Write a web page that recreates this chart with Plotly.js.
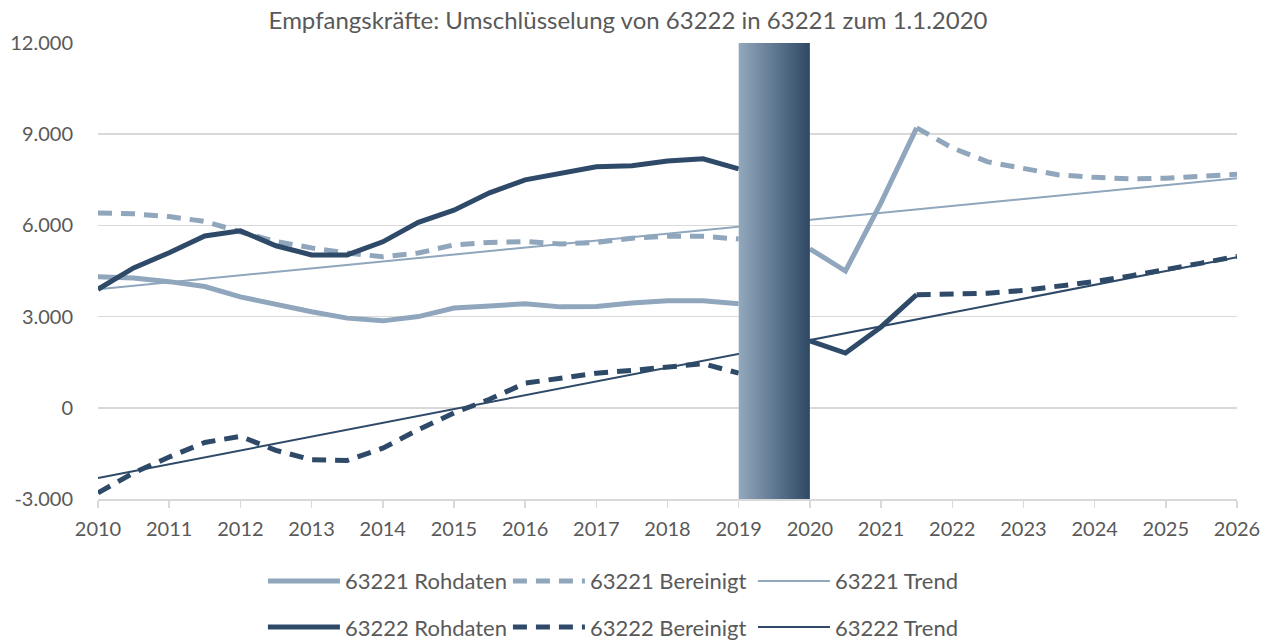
<!DOCTYPE html>
<html>
<head>
<meta charset="utf-8">
<script src="https://cdn.plot.ly/plotly-3.0.1.min.js"></script>
<style>html,body{margin:0;padding:0;background:#fff;}#chart{width:1274px;height:641px;}</style>
</head>
<body>
<div id="chart"></div>
<script>
// Half-year positions 2010 .. 2026
const xHalf = [2010,2010.5,2011,2011.5,2012,2012.5,2013,2013.5,2014,2014.5,2015,2015.5,2016,2016.5,2017,2017.5,2018,2018.5,2019,2019.5,2020,2020.5,2021,2021.5,2022,2022.5,2023,2023.5,2024,2024.5,2025,2025.5,2026];

const r63221 = [4310,4270,4150,3990,3650,3390,3160,2950,2860,3000,3280,3350,3420,3320,3330,3450,3520,3520,3420,null,5230,4500,6750,9210,null,null,null,null,null,null,null,null,null];
const b63221 = [6410,6380,6290,6130,5790,5470,5260,5090,4970,5090,5360,5440,5470,5390,5440,5580,5640,5640,5550,null,null,null,null,9210,8550,8090,7860,7660,7580,7530,7550,7610,7680];
const r63222 = [3900,4600,5100,5650,5820,5330,5030,5030,5460,6100,6500,7070,7500,7730,7930,7960,8120,8190,7860,null,2200,1800,2660,3720,null,null,null,null,null,null,null,null,null];
const b63222 = [-2800,-2140,-1620,-1140,-940,-1400,-1710,-1730,-1330,-720,-170,280,810,970,1140,1230,1360,1450,1140,null,null,null,null,3720,3750,3770,3860,3990,4150,4340,4570,4760,4980];

const trendX = [2010, 2026];
const t63221 = [3900, 7550];
const t63222 = [-2310, 4950];

// Umschlüsselungs-Zeitraum
const switchStart = 2019, switchEnd = 2020;
const yMin = -3000, yMax = 12000;

const yTickVals = [-3000, 0, 3000, 6000, 9000, 12000];
const yTickText = ['-3.000', '0', '3.000', '6.000', '9.000', '12.000'];
const xTickVals = [2010,2011,2012,2013,2014,2015,2016,2017,2018,2019,2020,2021,2022,2023,2024,2025,2026];

const LIGHT = '#8FA6BC';
const DARK = '#2E4A68';
const FONT = 'Lato, "Open Sans", sans-serif';
const TXT = '#595959';

const traces = [
  {x: xHalf, y: r63221, name: '63221 Rohdaten', mode: 'lines', line: {color: LIGHT, width: 5}, legend: 'legend'},
  {x: xHalf, y: b63221, name: '63221 Bereinigt', mode: 'lines', line: {color: LIGHT, width: 5, dash: '14px,9px'}, legend: 'legend'},
  {x: trendX, y: t63221, name: '63221 Trend', mode: 'lines', line: {color: LIGHT, width: 2}, legend: 'legend'},
  {x: xHalf, y: r63222, name: '63222 Rohdaten', mode: 'lines', line: {color: DARK, width: 5}, legend: 'legend2'},
  {x: xHalf, y: b63222, name: '63222 Bereinigt', mode: 'lines', line: {color: DARK, width: 5, dash: '14px,9px'}, legend: 'legend2'},
  {x: trendX, y: t63222, name: '63222 Trend', mode: 'lines', line: {color: DARK, width: 2}, legend: 'legend2'},
  {x: [switchStart, switchEnd, switchEnd, switchStart, switchStart], y: [yMin, yMin, yMax, yMax, yMin],
   mode: 'lines', fill: 'toself', line: {width: 0, color: 'rgba(0,0,0,0)'},
   fillgradient: {type: 'horizontal', colorscale: [[0, '#92A8BD'], [1, '#2E4864']]},
   showlegend: false, hoverinfo: 'skip'}
];

const legendBase = {
  orientation: 'h', xref: 'paper', yref: 'paper', xanchor: 'left', yanchor: 'middle',
  itemwidth: 72, entrywidth: 158, entrywidthmode: 'pixels',
  font: {family: FONT, size: 22, color: TXT}, bgcolor: 'rgba(0,0,0,0)', traceorder: 'normal'
};

const layout = {
  width: 1274, height: 641,
  margin: {l: 98, r: 37, t: 43, b: 142, autoexpand: false},
  paper_bgcolor: '#fff', plot_bgcolor: '#fff',
  font: {family: FONT, size: 20, color: TXT},
  title: {text: 'Empfangskräfte: Umschlüsselung von 63222 in 63221 zum 1.1.2020', font: {family: FONT, size: 24, color: TXT}, x: 0.493, xref: 'container', xanchor: 'center', y: 0.968, yref: 'container', yanchor: 'middle'},
  xaxis: {range: [2010, 2026], tickvals: xTickVals, ticktext: xTickVals.map(String), showgrid: false, zeroline: false,
          showline: true, linecolor: '#D9D9D9', linewidth: 1.5, ticks: 'outside', ticklen: 7, tickcolor: '#D9D9D9', tickwidth: 1.5,
          ticklabelstandoff: 4, tickfont: {family: FONT, size: 20, color: TXT}},
  yaxis: {range: [yMin, yMax], tickvals: yTickVals, ticktext: yTickText, showgrid: true, gridcolor: '#D9D9D9', gridwidth: 1.5,
          zeroline: false, showline: false, ticks: '', ticklabelstandoff: 24, tickfont: {family: FONT, size: 20, color: TXT}},
  legend: Object.assign({}, legendBase, {x: 0.1448, y: -0.18}),
  legend2: Object.assign({}, legendBase, {x: 0.1448, y: -0.281}),
  showlegend: true
};

Plotly.newPlot('chart', traces, layout, {staticPlot: true});
</script>
</body>
</html>
